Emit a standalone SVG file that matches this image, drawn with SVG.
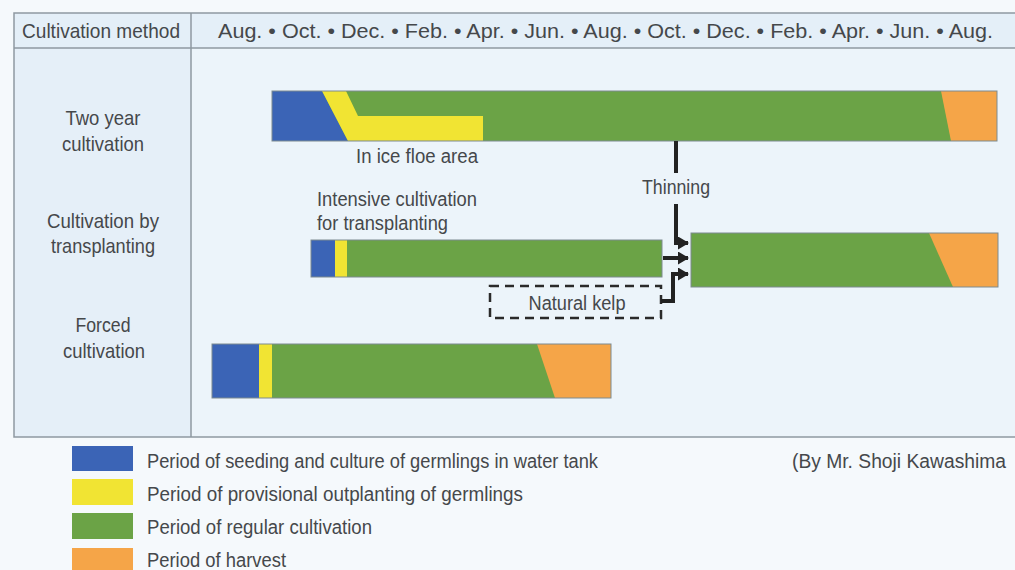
<svg xmlns="http://www.w3.org/2000/svg" width="1015" height="570" viewBox="0 0 1015 570">
<style>
text{font-family:"Liberation Sans",Arial,sans-serif;fill:#45484b}
.t{font-size:21px}
.l{font-size:20px}
.bar{stroke:#7d8a8f;stroke-width:1;fill:none}
.b{fill:#3b64b6}
.y{fill:#f1e433}
.g{fill:#6ba346}
.o{fill:#f5a548}
.ln{stroke:#8e99a1;stroke-width:1.5;fill:none}
.cn{stroke:#222;stroke-width:4;fill:none}
</style>
<defs>
<marker id="ah" markerUnits="userSpaceOnUse" markerWidth="11" markerHeight="13" refX="10" refY="6.5" orient="auto">
<path d="M0,0 L11,6.5 L0,13 z" fill="#222"/>
</marker>
</defs>
<rect width="1015" height="570" fill="#f5f9fc"/>
<g id="table">
<rect x="14" y="13" width="1001" height="424" fill="#ecf4fa"/>
<rect x="14" y="13" width="177" height="424" fill="#e5eff8"/>
<rect x="14" y="13" width="1001" height="35" fill="#e4eff8"/>
<path class="ln" d="M1015,13 H14 V437 H1015 M14,48 H1015 M191,13 V437"/>
<text class="t" x="22" y="38" textLength="158" lengthAdjust="spacingAndGlyphs">Cultivation method</text>
<text class="t" x="218" y="38" textLength="775" lengthAdjust="spacingAndGlyphs">Aug. • Oct. • Dec. • Feb. • Apr. • Jun. • Aug. • Oct. • Dec. • Feb. • Apr. • Jun. • Aug.</text>
</g>
<g id="label-two-year" text-anchor="middle">
<text class="t" x="103" y="125" textLength="75" lengthAdjust="spacingAndGlyphs">Two year</text>
<text class="t" x="103" y="151" textLength="82" lengthAdjust="spacingAndGlyphs">cultivation</text>
</g>
<g id="label-transplanting" text-anchor="middle">
<text class="t" x="103" y="228" textLength="112" lengthAdjust="spacingAndGlyphs">Cultivation by</text>
<text class="t" x="103" y="253" textLength="104" lengthAdjust="spacingAndGlyphs">transplanting</text>
</g>
<g id="label-forced" text-anchor="middle">
<text class="t" x="103" y="332" textLength="55" lengthAdjust="spacingAndGlyphs">Forced</text>
<text class="t" x="104" y="358" textLength="82" lengthAdjust="spacingAndGlyphs">cultivation</text>
</g>
<g id="bar-two-year">
<rect class="g" x="272" y="91" width="725" height="50"/>
<polygon class="o" points="941,91 997,91 997,141 951,141"/>
<polygon class="b" points="272,91 322,91 348,141 272,141"/>
<polygon class="y" points="322,91 346,91 358,116 483,116 483,141 348,141"/>
<rect class="bar" x="272" y="91" width="725" height="50"/>
<text class="l" x="417" y="163" text-anchor="middle" textLength="122" lengthAdjust="spacingAndGlyphs">In ice floe area</text>
</g>
<g id="bar-intensive">
<rect class="g" x="311" y="240" width="351" height="37"/>
<rect class="b" x="311" y="240" width="24" height="37"/>
<rect class="y" x="335" y="240" width="12" height="37"/>
<rect class="bar" x="311" y="240" width="351" height="37"/>
<text class="l" x="317" y="206" textLength="160" lengthAdjust="spacingAndGlyphs">Intensive cultivation</text>
<text class="l" x="317" y="230" textLength="131" lengthAdjust="spacingAndGlyphs">for transplanting</text>
</g>
<g id="bar-transplanted">
<rect class="g" x="691" y="233" width="307" height="54"/>
<polygon class="o" points="929,233 998,233 998,287 953,287"/>
<rect class="bar" x="691" y="233" width="307" height="54"/>
</g>
<g id="natural-kelp">
<rect x="490" y="286" width="171" height="32" fill="none" stroke="#2a2a2a" stroke-width="2.5" stroke-dasharray="9 6"/>
<text class="l" x="577" y="310" text-anchor="middle" textLength="97" lengthAdjust="spacingAndGlyphs">Natural kelp</text>
</g>
<g id="thinning-label">
<text class="l" x="676" y="194" text-anchor="middle" textLength="68" lengthAdjust="spacingAndGlyphs">Thinning</text>
</g>
<g id="bar-forced">
<rect class="g" x="212" y="344" width="399" height="54"/>
<rect class="b" x="212" y="344" width="47" height="54"/>
<rect class="y" x="259" y="344" width="13" height="54"/>
<polygon class="o" points="537,344 611,344 611,398 555,398"/>
<rect class="bar" x="212" y="344" width="399" height="54"/>
</g>
<g id="connectors">
<path class="cn" d="M676,141 V173"/>
<path class="cn" d="M676,204 V243 H688" marker-end="url(#ah)"/>
<path class="cn" d="M663,258 H688" marker-end="url(#ah)"/>
<path class="cn" d="M661,301 H673 V274 H688" marker-end="url(#ah)"/>
</g>
<g id="legend">
<rect class="b" x="72" y="446" width="61" height="25"/>
<rect class="y" x="72" y="479" width="61" height="26"/>
<rect class="g" x="72" y="513" width="61" height="26"/>
<rect class="o" x="72" y="548" width="61" height="22"/>
<text class="l" x="147" y="468" textLength="451" lengthAdjust="spacingAndGlyphs">Period of seeding and culture of germlings in water tank</text>
<text class="l" x="147" y="501" textLength="376" lengthAdjust="spacingAndGlyphs">Period of provisional outplanting of germlings</text>
<text class="l" x="147" y="534" textLength="225" lengthAdjust="spacingAndGlyphs">Period of regular cultivation</text>
<text class="l" x="147" y="567" textLength="139" lengthAdjust="spacingAndGlyphs">Period of harvest</text>
</g>
<g id="credit">
<text class="l" x="792" y="468" textLength="214" lengthAdjust="spacingAndGlyphs">(By Mr. Shoji Kawashima</text>
</g>
</svg>
